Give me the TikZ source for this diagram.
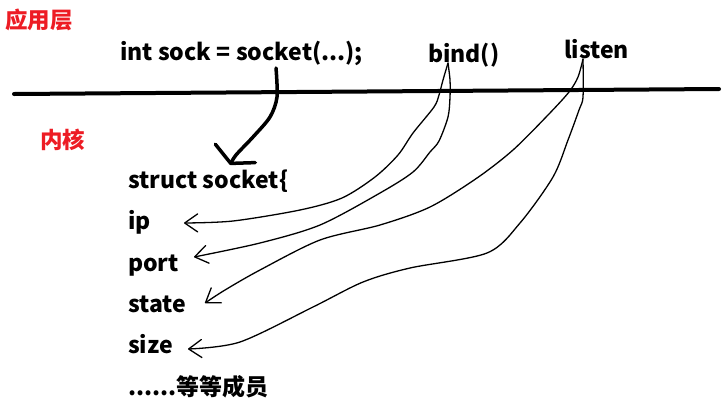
\documentclass[tikz,border=0pt]{standalone}
\usepackage{fontspec}
\setmainfont{Noto Sans CJK SC}
\usetikzlibrary{positioning,arrows.meta}
\definecolor{layercol}{HTML}{ED1C24}

\begin{document}
\begin{tikzpicture}[x=1pt,y=-1pt,
   layer/.style={font=\bfseries\fontsize{22.5}{26}\selectfont,text=layercol,
              inner sep=0pt,anchor=west},
   code/.style={font=\bfseries\fontsize{23}{27}\selectfont,inner sep=0pt,
              anchor=base west},
   member/.style={code,anchor=north west,text height=17pt,text depth=5pt},
   call/.style={line width=1.3pt,line cap=round,line join=round,
              -{Straight Barb[length=13pt,width=18pt,round]}},
   node distance=19pt,
]
\useasboundingbox (0,0) rectangle (722,405);

% user space
\node[layer] (app) at (5,20) {应用层};
\node[code] (sock) at (120,60) {int sock = socket(...);};
\node[code] (bind) at (428,62) {bind()};
\node[code] (listen) at (564,58) {listen};

% boundary
\coordinate (bl) at (14,94);
\coordinate (br) at (719,89);
\draw[line width=4pt,line cap=round] (bl) -- (br);

% kernel
\node[layer] (kern) at (40,140) {内核};
\node[member] (struct) at (128,171) {struct socket\{};
\node[member,below=of struct.south west,anchor=north west] (ip) {ip};
\node[member,below=of ip.south west,anchor=north west] (port) {port};
\node[member,below=of port.south west,anchor=north west] (state) {state};
\node[member,below=of state.south west,anchor=north west] (size) {size};
\node[member,below=of size.south west,anchor=north west] (rest) {......等等成员};

\coordinate (sockfoot) at (276,68);
\coordinate (bindfoot) at (448,63);
\coordinate (listenfoot) at (583,59);

\draw[line width=3.5pt,line cap=round,line join=round,
      -{Straight Barb[length=11pt,width=44pt,round]}]
   plot[smooth] coordinates {(sockfoot) (277,97) (270,117) (253,137) (236,155) (230,165)};

\draw[call] plot[smooth] coordinates {(bindfoot) (443,80) (439,95) (434,107)
   (413,133) (398,155) (375,177) (342,198) (300,210) (233,221) (184,223)};
\draw[call] plot[smooth] coordinates {(bindfoot) (450,80) (450,97) (448,117)
   (439,141) (430,152) (413,172) (380,193) (320,225) (260,243) (194,257)};
\draw[call] plot[smooth] coordinates {(listenfoot) (578,77) (569,92) (548,115)
   (513,150) (477,178) (430,207) (380,225) (320,240) (260,270) (225,290) (205,303)};
\draw[call] plot[smooth] coordinates {(listenfoot) (583,97) (579,110) (568,140)
   (553,177) (520,223) (487,253) (410,268) (363,282) (313,307) (240,342) (188,349)};
\end{tikzpicture}
\end{document}
